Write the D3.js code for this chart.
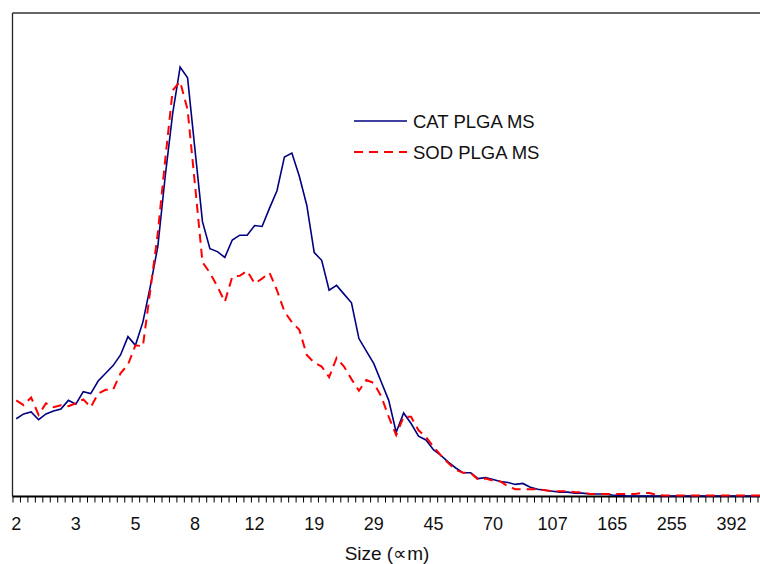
<!DOCTYPE html>
<html>
<head>
<meta charset="utf-8">
<script src="https://cdn.jsdelivr.net/npm/d3@7"></script>
<style>
  body { margin: 0; background: #fff; }
  svg { display: block; font-family: "Liberation Sans", Arial, sans-serif; }
</style>
</head>
<body>
<svg id="chart" width="760" height="564"></svg>
<script>
// size bin labels shown every 8th bin (um)
const tickLabels = ["2", "3", "5", "8", "12", "19", "29", "45", "70", "107", "165", "255", "392"];
const labelEvery = 8;

// volume % per size bin
const catValues = [
  0.80, 0.85, 0.87, 0.79, 0.85, 0.88, 0.90, 0.99, 0.95, 1.08,
  1.06, 1.19, 1.27, 1.35, 1.46, 1.65, 1.56, 1.80, 2.17, 2.58,
  3.31, 3.96, 4.44, 4.33, 3.58, 2.84, 2.56, 2.53, 2.47, 2.65,
  2.70, 2.70, 2.80, 2.79, 2.98, 3.16, 3.51, 3.55, 3.31, 3.01,
  2.52, 2.44, 2.13, 2.18, 2.09, 2.00, 1.63, 1.50, 1.37, 1.18,
  0.99, 0.66, 0.86, 0.75, 0.62, 0.58, 0.48, 0.42, 0.35, 0.29,
  0.24, 0.24, 0.18, 0.19, 0.17, 0.15, 0.14, 0.12, 0.13, 0.09,
  0.07, 0.06, 0.05, 0.04, 0.04, 0.03, 0.03, 0.02, 0.02, 0.02,
  0.01, 0.005, 0, 0, 0, 0, 0, 0, 0, 0,
  0, 0, 0, 0, 0, 0, 0, 0, 0, 0, 0
];
const sodValues = [
  0.99, 0.94, 1.02, 0.84, 0.96, 0.92, 0.94, 0.93, 0.96, 1.00,
  0.92, 1.06, 1.10, 1.10, 1.27, 1.36, 1.56, 1.55, 2.13, 2.72,
  3.48, 4.20, 4.29, 4.00, 3.22, 2.42, 2.31, 2.17, 2.01, 2.27,
  2.28, 2.33, 2.20, 2.25, 2.31, 2.13, 1.91, 1.80, 1.72, 1.46,
  1.38, 1.34, 1.23, 1.43, 1.34, 1.21, 1.09, 1.20, 1.17, 1.03,
  0.82, 0.63, 0.82, 0.82, 0.68, 0.61, 0.51, 0.42, 0.34, 0.27,
  0.24, 0.24, 0.17, 0.18, 0.16, 0.15, 0.10, 0.07, 0.07, 0.07,
  0.07, 0.06, 0.05, 0.05, 0.05, 0.04, 0.04, 0.02, 0.02, 0.02,
  0.02, 0.02, 0.02, 0.02, 0.03, 0.03, 0.01, 0.005, 0.005, 0.005,
  0.005, 0.005, 0.005, 0.005, 0.005, 0.005, 0.005, 0.005, 0.005, 0.005, 0.005
];
const seriesNames = ["CAT PLGA MS", "SOD PLGA MS"];

const svg = d3.select("#chart");
const plotLeft = 12.5, plotTop = 13, plotBottom = 496.5, step = 7.45;
const n = catValues.length;

const xBand = d3.scaleBand().domain(d3.range(n)).range([plotLeft, plotLeft + step * n]);
const xEdge = d3.scaleLinear().domain([0, n]).range([plotLeft, plotLeft + step * n]);
const y = d3.scaleLinear().domain([0, 5]).range([plotBottom - 0.5, plotTop]);

// frame: top and left lines
svg.append("line")
  .attr("x1", plotLeft).attr("x2", 800).attr("y1", plotTop).attr("y2", plotTop)
  .attr("stroke", "#333").attr("stroke-width", 1.3);
svg.append("line")
  .attr("x1", plotLeft).attr("x2", plotLeft).attr("y1", plotTop).attr("y2", plotBottom)
  .attr("stroke", "#222").attr("stroke-width", 1.3);

// tick marks at bin edges
const tickAxis = svg.append("g")
  .attr("transform", `translate(0,${plotBottom})`)
  .call(d3.axisBottom(xEdge).tickValues(d3.range(n + 1)).tickFormat("").tickSize(6).tickSizeOuter(0));
tickAxis.select(".domain").remove();
tickAxis.selectAll(".tick line").attr("stroke", "#000").attr("stroke-width", 1);

// labels at bin centers
const labelAxis = svg.append("g")
  .attr("transform", `translate(0,${plotBottom})`)
  .call(d3.axisBottom(xBand)
    .tickValues(d3.range(0, n, labelEvery).filter(i => i / labelEvery < tickLabels.length))
    .tickFormat(i => tickLabels[i / labelEvery])
    .tickSize(0));
labelAxis.select(".domain").remove();
labelAxis.selectAll("text")
  .attr("dy", 0).attr("y", 33)
  .style("font-size", "18px")
  .style("font-family", "'Liberation Sans', Arial, sans-serif")
  .attr("fill", "#111");

// baseline
svg.append("line")
  .attr("x1", plotLeft).attr("x2", 800).attr("y1", plotBottom).attr("y2", plotBottom)
  .attr("stroke", "#000").attr("stroke-width", 2);

const line = d3.line()
  .x((d, i) => xBand(i) + xBand.bandwidth() / 2)
  .y(d => y(d));

svg.append("path")
  .datum(catValues)
  .attr("d", line)
  .attr("fill", "none")
  .attr("stroke", "#000080")
  .attr("stroke-width", 1.6);

svg.append("path")
  .datum(sodValues)
  .attr("d", line)
  .attr("fill", "none")
  .attr("stroke", "#ff0000")
  .attr("stroke-width", 2)
  .attr("stroke-dasharray", "9,6");

// axis title
svg.append("text")
  .attr("x", 387).attr("y", 560)
  .attr("text-anchor", "middle")
  .style("font-size", "19px")
  .attr("fill", "#111")
  .text("Size (∝m)");

// legend
const legend = svg.append("g");
const legendStyles = [
  { color: "#000080", dash: null, width: 1.6 },
  { color: "#ff0000", dash: "9,6", width: 2 }
];
seriesNames.forEach((name, i) => {
  const ly = 121 + i * 31;
  legend.append("line")
    .attr("x1", 354).attr("x2", 407).attr("y1", ly).attr("y2", ly)
    .attr("stroke", legendStyles[i].color)
    .attr("stroke-width", legendStyles[i].width)
    .attr("stroke-dasharray", legendStyles[i].dash);
  legend.append("text")
    .attr("x", 413).attr("y", ly + 6.5)
    .style("font-size", "18.5px")
    .attr("fill", "#111")
    .text(name);
});
</script>
</body>
</html>
